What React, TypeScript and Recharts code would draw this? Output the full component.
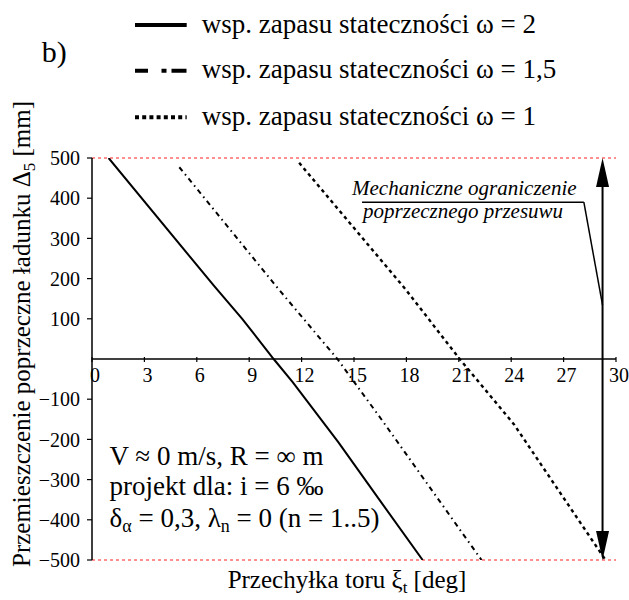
import React from 'react';
import { ComposedChart, Line, XAxis, YAxis, ReferenceLine, Legend } from 'recharts';

// ---- data ----
const xTicks = [0, 3, 6, 9, 12, 15, 18, 21, 24, 27, 30];
const yTicks = [500, 400, 300, 200, 100, -100, -200, -300, -400, -500];
const limitTop = 500;
const limitBottom = -500;
const arrowX = 29.23;

const omega2 = [
  { x: 0.95, y: 500 },
  { x: 7.0, y: 181 },
  { x: 8.6, y: 100 },
  { x: 10.4, y: 0 },
  { x: 11.5, y: -58 },
  { x: 14.1, y: -207 },
  { x: 16.5, y: -353 },
  { x: 18.93, y: -500 },
];
const omega15 = [
  { x: 5.0, y: 477 },
  { x: 10.6, y: 178 },
  { x: 14.05, y: 0 },
  { x: 16.7, y: -158 },
  { x: 22.3, y: -500 },
];
const omega1 = [
  { x: 11.86, y: 488 },
  { x: 17.94, y: 174 },
  { x: 21.05, y: 0 },
  { x: 24.15, y: -162 },
  { x: 29.4, y: -500 },
];

const seriesNames = [
  'wsp. zapasu stateczności ω = 2',
  'wsp. zapasu stateczności ω = 1,5',
  'wsp. zapasu stateczności ω = 1',
];

const FONT = "'Liberation Serif', serif";
const X_MIN = 0;
const X_MAX = 30;

const XAxisAtZero = (props: any) => {
  const { x1, y1, x2 } = props;
  const toPx = (v: number) => x1 + ((v - X_MIN) / (X_MAX - X_MIN)) * (x2 - x1);
  return (
    <g>
      <line x1={x1} y1={y1} x2={x2} y2={y1} stroke="#000" strokeWidth={1.3} />
      {xTicks.map((t) => (
        <g key={t}>
          <line x1={toPx(t)} y1={y1 - 2} x2={toPx(t)} y2={y1 + 3} stroke="#000" strokeWidth={1.2} />
          <text x={toPx(t) + 3} y={y1 + 23} textAnchor="middle" fontSize={20} style={{ fontFamily: FONT }} fill="#000">
            {t}
          </text>
        </g>
      ))}
    </g>
  );
};

const DoubleArrow = (props: any) => {
  const { x1, y1, y2 } = props;
  const top = Math.min(y1, y2);
  const bot = Math.max(y1, y2);
  const hl = 29;
  const hw = 6.5;
  return (
    <g>
      <line x1={x1} y1={top + hl - 2} x2={x1} y2={bot - hl + 2} stroke="#000" strokeWidth={2} />
      <polygon points={`${x1},${top} ${x1 - hw},${top + hl} ${x1 + hw},${top + hl}`} fill="#000" />
      <polygon points={`${x1},${bot} ${x1 - hw},${bot - hl} ${x1 + hw},${bot - hl}`} fill="#000" />
    </g>
  );
};

const LeaderWithText = (props: any) => {
  const { x1, y1, x2, y2 } = props;
  return (
    <g>
      <line x1={x1} y1={y1} x2={x2} y2={y2} stroke="#000" strokeWidth={1.5} />
      <text x={x1 - 10} y={y1 - 7} fontSize={21} fontStyle="italic" style={{ fontFamily: FONT }} fill="#000">
        Mechaniczne ograniczenie
      </text>
      <text x={x1 + 1} y={y1 + 16} fontSize={21} fontStyle="italic" style={{ fontFamily: FONT }} fill="#000">
        poprzecznego przesuwu
      </text>
    </g>
  );
};

const legendStyles = [
  { dash: undefined as string | undefined, width: 4 },
  { dash: '13 13.5 5 5 15', width: 4 },
  { dash: '4 3.2', width: 4 },
];
const legendRows = [25, 70.7, 117.3];

const LegendContent = () => (
  <svg width={629} height={600} style={{ position: 'absolute', left: 0, top: 0, pointerEvents: 'none', fontFamily: FONT }}>
    <text x={41.7} y={61.7} fontSize={30} style={{ fontFamily: FONT }} fill="#000">b)</text>
    {seriesNames.map((name, i) => {
      const cy = legendRows[i];
      return (
        <g key={name}>
          <line x1={135} y1={cy} x2={186.7} y2={cy} stroke="#000" strokeWidth={legendStyles[i].width} strokeDasharray={legendStyles[i].dash} />
          <text x={201.7} y={cy + 7.5} fontSize={27} style={{ fontFamily: FONT }} fill="#000">{name}</text>
        </g>
      );
    })}
    <g fontSize={27} style={{ fontFamily: FONT }} fill="#000">
      <text x={109.6} y={465}>V ≈ 0 m/s, R = ∞ m</text>
      <text x={109.6} y={495}>projekt dla: i = 6 ‰</text>
      <text x={109.6} y={526.5}>
        δ<tspan fontSize={18} dy={5}>α</tspan>
        <tspan dy={-5}> = 0,3, λ</tspan>
        <tspan fontSize={18} dy={5}>n</tspan>
        <tspan dy={-5}> = 0 (n = 1..5)</tspan>
      </text>
    </g>
  </svg>
);

const YLabel = (props: any) => {
  const vb = props.viewBox || { x: 0, y: 158, height: 402 };
  const x = vb.x + 30;
  const y = vb.y + vb.height + 7;
  return (
    <text x={x} y={y} transform={`rotate(-90, ${x}, ${y})`} fontSize={25} style={{ fontFamily: FONT }} fill="#000">
      Przemieszczenie poprzeczne ładunku Δ<tspan fontSize={17} dy={5}>5</tspan>
      <tspan dy={-5}> [mm]</tspan>
    </text>
  );
};

const XLabel = (props: any) => {
  const vb = props.viewBox || { x: 92, y: 560, width: 524 };
  const x = vb.x + vb.width / 2 - 7;
  const y = vb.y + 28;
  return (
    <text x={x} y={y} textAnchor="middle" fontSize={25} style={{ fontFamily: FONT }} fill="#000">
      Przechyłka toru ξ<tspan fontSize={17} dy={5}>t</tspan>
      <tspan dy={-5}> [deg]</tspan>
    </text>
  );
};

const fmtY = (v: number) => (v < 0 ? `\u2212${Math.abs(v)}` : `${v}`);

export default function App() {
  return (
    <div style={{ position: 'absolute', left: 0, top: 0, width: 629, height: 600, background: '#fff', fontFamily: FONT }}>
      <ComposedChart width={629} height={600} margin={{ top: 158, right: 13, bottom: 0, left: 0 }} style={{ fontFamily: FONT }}>
        <XAxis
          type="number"
          dataKey="x"
          domain={[X_MIN, X_MAX]}
          ticks={xTicks}
          allowDataOverflow
          axisLine={false}
          tickLine={false}
          tick={false}
          height={40}
          label={<XLabel />}
        />
        <YAxis
          type="number"
          domain={[limitBottom, limitTop]}
          ticks={yTicks}
          interval={0}
          allowDataOverflow
          width={92}
          tickSize={5}
          tickMargin={7}
          tickFormatter={fmtY}
          axisLine={{ stroke: '#000', strokeWidth: 1.5 }}
          tickLine={{ stroke: '#000', strokeWidth: 1.2 }}
          tick={{ fill: '#000', fontSize: 20, style: { fontFamily: FONT } }}
          label={<YLabel />}
        />
        <ReferenceLine y={limitTop} stroke="#ff2020" strokeDasharray="3 3" strokeWidth={1} />
        <ReferenceLine y={limitBottom} stroke="#ff2020" strokeDasharray="3 3" strokeWidth={1} />
        <ReferenceLine y={0} shape={XAxisAtZero} />
        <Line data={omega2} dataKey="y" name={seriesNames[0]} stroke="#000" strokeWidth={2} dot={false} isAnimationActive={false} />
        <Line data={omega15} dataKey="y" name={seriesNames[1]} stroke="#000" strokeWidth={2} strokeDasharray="5 4 1.5 4" dot={false} isAnimationActive={false} />
        <Line data={omega1} dataKey="y" name={seriesNames[2]} stroke="#000" strokeWidth={2.4} strokeDasharray="3.5 3.5" dot={false} isAnimationActive={false} />
        <ReferenceLine segment={[{ x: arrowX, y: limitTop }, { x: arrowX, y: limitBottom }]} shape={DoubleArrow} />
        <ReferenceLine segment={[{ x: 15.46, y: 390 }, { x: 28.16, y: 390 }]} shape={LeaderWithText} />
        <ReferenceLine segment={[{ x: 28.16, y: 390 }, { x: arrowX, y: 134 }]} stroke="#000" strokeWidth={1.5} />
        <Legend
          layout="vertical"
          align="center"
          verticalAlign="middle"
          content={<LegendContent />}
          wrapperStyle={{ position: 'absolute', left: 0, top: 0, width: 629, height: 600, pointerEvents: 'none' }}
        />
      </ComposedChart>
    </div>
  );
}
